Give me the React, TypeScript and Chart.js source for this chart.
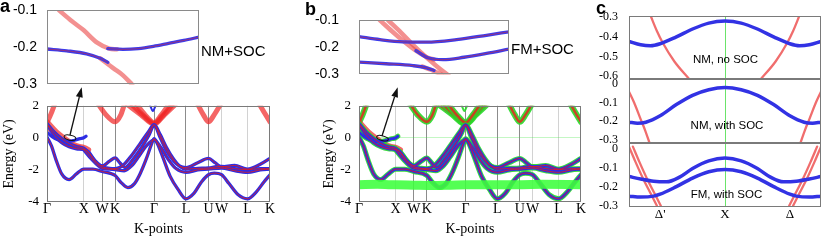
import React, { useEffect, useRef } from 'react';
import { Chart, registerables } from 'chart.js';

Chart.register(...registerables);

type Pt = [number, number];

// ---------------- data ----------------
// k-path positions (cumulative, fcc path)
const K_POS = [0, 1, 1.5, 1.854, 2.914, 3.78, 4.392, 4.746, 5.453, 6.065];
const K_LABELS = ['Γ', 'X', 'W', 'K', 'Γ', 'L', 'U', 'W', 'L', 'K'];
const E_TICKS = [2, 0, -2, -4];

// valence bands (k, E in eV)
const BAND_P: Pt[] = [[0, 0.05], [0.12, -0.5], [0.25, -1.4], [0.4, -2.25], [0.6, -2.6], [0.8, -2.25], [1.0, -1.95], [1.25, -1.95], [1.5, -2.1], [1.854, -2.35], [2.0, -2.75], [2.2, -3.1], [2.38, -2.85], [2.53, -2.25], [2.71, -1.25], [2.84, -0.4], [2.914, -0.05], [3.0, -0.35], [3.15, -1.2], [3.35, -2.4], [3.56, -3.2], [3.78, -3.8], [4.0, -3.45], [4.2, -2.75], [4.392, -2.3], [4.55, -2.2], [4.746, -2.3], [4.95, -2.85], [5.2, -3.55], [5.453, -3.8], [5.7, -3.35], [5.9, -2.75], [6.065, -2.3]];
const BAND_Q: Pt[] = [[0, 0.9], [0.2, 0.35], [0.4, -0.05], [0.6, -0.35], [0.8, -0.55], [1.0, -0.65], [1.15, -1.0], [1.35, -1.55], [1.5, -1.8], [1.7, -1.9], [1.854, -1.92], [2.05, -1.75], [2.3, -1.1], [2.55, -0.3], [2.75, 0.35], [2.914, 0.82], [3.08, 0.2], [3.25, -0.6], [3.45, -1.35], [3.6, -1.75], [3.78, -1.95], [4.1, -1.9], [4.392, -1.88], [4.6, -1.8], [4.746, -1.78], [5.1, -1.92], [5.453, -1.98], [5.8, -1.92], [6.065, -1.92]];
const BAND_R: Pt[] = [[0, 0.85], [0.2, 0.15], [0.4, -0.3], [0.6, -0.55], [0.8, -0.68], [1.0, -0.72], [1.12, -0.85], [1.3, -1.4], [1.5, -1.75], [1.7, -1.45], [1.854, -1.25], [1.98, -1.55], [2.12, -1.85], [2.35, -1.3], [2.6, -0.5], [2.78, 0.2], [2.914, 0.78], [3.08, 0.0], [3.25, -0.8], [3.45, -1.45], [3.6, -1.75], [3.78, -1.85], [4.1, -1.55], [4.392, -1.28], [4.57, -1.55], [4.746, -1.82], [5.1, -1.72], [5.453, -1.95], [5.8, -1.65], [6.065, -1.28]];
const BAND_S: Pt[] = [[0, 0.35], [0.14, 0.08], [0.28, -0.1], [0.46, -0.22], [0.6, -0.22], [0.75, -0.15], [0.9, -0.05], [1.0, 0.0], [1.06, 0.1]];
const BAND_T: Pt[] = [[1.0, -0.75], [1.2, -1.3], [1.5, -1.9], [1.7, -1.95], [1.854, -1.98], [2.1, -2.05], [2.3, -1.75], [2.5, -1.15], [2.7, -0.5], [2.914, -0.12], [3.1, -0.6], [3.3, -1.35], [3.5, -1.9], [3.78, -2.15], [4.1, -2.0], [4.392, -1.95], [4.746, -1.88], [5.1, -2.05], [5.453, -2.15], [5.8, -2.0], [6.065, -1.95]];
const RED_GX1: Pt[] = [[0, 0.98], [0.15, 0.6], [0.3, 0.25], [0.5, -0.1], [0.7, -0.4], [0.85, -0.55], [1.0, -0.62], [1.12, -0.75]];
const RED_GX2: Pt[] = [[0, 0.8], [0.15, 0.35], [0.3, 0.0], [0.5, -0.3], [0.7, -0.5], [0.9, -0.62]];

// conduction bands
const C_G1: Pt[] = [[0, 0.95], [0.1, 1.45], [0.2, 2.05]];
const C_K: Pt[] = [[1.41, 2.05], [1.6, 1.45], [1.854, 1.0], [2.0, 1.4], [2.1, 2.05]];
const FAN_1: Pt[] = [[2.2, 2.05], [2.55, 1.45], [2.914, 0.85], [3.2, 1.45], [3.48, 2.05]];
const FAN_2: Pt[] = [[2.32, 2.05], [2.62, 1.4], [2.914, 0.9], [3.15, 1.4], [3.4, 2.05]];
const FAN_3: Pt[] = [[2.45, 2.05], [2.7, 1.35], [2.914, 0.95], [3.1, 1.4], [3.3, 2.05]];
const BLUE_V: Pt[] = [[2.8, 2.05], [2.88, 1.68], [2.96, 2.05]];
const C_U: Pt[] = [[4.11, 2.05], [4.25, 1.45], [4.392, 1.0], [4.55, 1.45], [4.71, 2.05]];
const C_K2: Pt[] = [[5.79, 2.05], [5.93, 1.5], [6.065, 1.0]];
const GREEN_FLAT: Pt[] = [[0, -2.92], [0.5, -2.9], [1, -2.93], [1.5, -2.95], [2, -2.97], [2.5, -2.95], [2.914, -2.93], [3.5, -2.92], [4.392, -2.92], [5, -2.9], [6.065, -2.92]];

// insets (relative k, E)
const INSET_TICKS = [-0.1, -0.2, -0.3];
const IA_RED1: Pt[] = [[0.08, -0.1], [0.16, -0.128], [0.24, -0.153], [0.33, -0.187], [0.41, -0.203], [0.46, -0.205]];
const IA_BLUE1: Pt[] = [[0.4, -0.203], [0.5, -0.205], [0.6, -0.203], [0.7, -0.197], [0.8, -0.189], [0.9, -0.181], [1.0, -0.172]];
const IA_BLUE2: Pt[] = [[0, -0.204], [0.13, -0.209], [0.26, -0.217], [0.35, -0.229], [0.4, -0.24]];
const IA_RED2: Pt[] = [[0.35, -0.229], [0.44, -0.257], [0.5, -0.275], [0.56, -0.3]];

const IB_BLUE_U: Pt[] = [[0, -0.16], [0.14, -0.171], [0.29, -0.179], [0.45, -0.18], [0.65, -0.171], [0.85, -0.155], [1, -0.142]];
const IB_RED_1: Pt[] = [[0.14, -0.1], [0.22, -0.14], [0.3, -0.178], [0.38, -0.212], [0.46, -0.238], [0.5, -0.244]];
const IB_BLUE_M: Pt[] = [[0.38, -0.212], [0.46, -0.238], [0.56, -0.245], [0.7, -0.236], [0.85, -0.222], [1, -0.206]];
const IB_RED_2: Pt[] = [[0.195, -0.1], [0.28, -0.145], [0.36, -0.19], [0.44, -0.232], [0.52, -0.27], [0.6, -0.305]];
const IB_BLUE_L: Pt[] = [[0, -0.254], [0.18, -0.26], [0.36, -0.267], [0.45, -0.275], [0.5, -0.285]];
const IB_RED_3: Pt[] = [[0.42, -0.27], [0.48, -0.282], [0.55, -0.3]];

// panel c
const C_X_POS = [-1, 0, 1];
const C_X_LABELS = ["Δ'", 'X', 'Δ'];
const C1_TICKS = [-0.3, -0.4, -0.5, -0.6];
const C23_TICKS = [0, -0.1, -0.2, -0.3];
const C1_BLUE: Pt[] = [[-1.48, -0.423], [-1.3, -0.44], [-1.15, -0.445], [-1.0, -0.435], [-0.75, -0.4], [-0.5, -0.36], [-0.25, -0.33], [0, -0.32], [0.25, -0.33], [0.5, -0.36], [0.75, -0.4], [1.0, -0.435], [1.15, -0.445], [1.3, -0.44], [1.48, -0.423]];
const C1_RED_L: Pt[] = [[-1.15, -0.29], [-1.05, -0.37], [-0.96, -0.43], [-0.78, -0.525], [-0.55, -0.615]];
const C1_RED_R: Pt[] = [[0.55, -0.615], [0.78, -0.525], [0.96, -0.43], [1.05, -0.37], [1.15, -0.29]];
const C2_BLUE: Pt[] = [[-1.48, -0.205], [-1.35, -0.21], [-1.22, -0.205], [-1.0, -0.17], [-0.75, -0.11], [-0.5, -0.06], [-0.25, -0.03], [0, -0.018], [0.25, -0.03], [0.5, -0.06], [0.75, -0.11], [1.0, -0.17], [1.22, -0.205], [1.35, -0.21], [1.48, -0.205]];
const C2_RED_L: Pt[] = [[-1.48, -0.04], [-1.4, -0.1], [-1.31, -0.18], [-1.23, -0.25], [-1.16, -0.32]];
const C2_RED_R: Pt[] = [[1.16, -0.32], [1.23, -0.25], [1.31, -0.18], [1.4, -0.1], [1.48, -0.04]];
const C3_BLUE_U: Pt[] = [[-1.48, -0.147], [-1.3, -0.16], [-1.1, -0.172], [-0.9, -0.175], [-0.7, -0.15], [-0.5, -0.105], [-0.25, -0.065], [0, -0.05], [0.25, -0.065], [0.5, -0.105], [0.7, -0.15], [0.9, -0.175], [1.1, -0.172], [1.3, -0.16], [1.48, -0.147]];
const C3_BLUE_L: Pt[] = [[-1.48, -0.25], [-1.3, -0.255], [-1.1, -0.25], [-1.0, -0.24], [-0.75, -0.2], [-0.5, -0.155], [-0.25, -0.122], [0, -0.11], [0.25, -0.122], [0.5, -0.155], [0.75, -0.2], [1.0, -0.24], [1.1, -0.25], [1.3, -0.255], [1.48, -0.25]];
const C3_RED_L1: Pt[] = [[-1.48, 0.01], [-1.38, -0.07], [-1.26, -0.16], [-1.14, -0.24], [-1.05, -0.3]];
const C3_RED_L2: Pt[] = [[-1.42, 0.01], [-1.32, -0.07], [-1.2, -0.16], [-1.08, -0.24], [-0.99, -0.3]];
const C3_RED_R1: Pt[] = [[1.05, -0.3], [1.14, -0.24], [1.26, -0.16], [1.38, -0.07], [1.48, 0.01]];
const C3_RED_R2: Pt[] = [[0.99, -0.3], [1.08, -0.24], [1.2, -0.16], [1.32, -0.07], [1.42, 0.01]];

// ---------------- styling helpers ----------------
const SERIF = "'Liberation Serif','Times New Roman',serif";
const SANS = "'Liberation Sans',Arial,Helvetica,sans-serif";
const BLUE = 'rgb(45,45,228)';
const RED_CORE = 'rgba(225,30,30,0.85)';
const RED_FAT = 'rgba(240,35,35,0.7)';
const GREEN_EDGE = 'rgba(40,215,40,0.9)';

const framePlugin = {
  id: 'frame',
  afterDatasetsDraw(chart: any, _args: any, opts: any) {
    const { ctx, chartArea } = chart;
    const { left, top, right, bottom } = chartArea;
    ctx.save();
    ctx.strokeStyle = opts.color || '#777';
    ctx.lineWidth = 1;
    ctx.strokeRect(Math.round(left) + 0.5, Math.round(top) + 0.5, Math.round(right - left) - 1, Math.round(bottom - top) - 1);
    ctx.restore();
  },
};

function line(data: Pt[], color: string, width: number) {
  return {
    data: data.map(([x, y]) => ({ x, y })),
    borderColor: color,
    backgroundColor: color,
    borderWidth: width,
    pointRadius: 0,
    pointHoverRadius: 0,
    showLine: true,
    fill: false,
    cubicInterpolationMode: 'monotone',
    clip: 0,
    borderCapStyle: 'round',
    borderJoinStyle: 'round',
  };
}

function makeConfig(layers: any[], padding: any, scales: any, frameColor: string) {
  return {
    type: 'scatter',
    data: { datasets: layers.slice().reverse() },
    options: {
      responsive: false,
      animation: false,
      events: [],
      layout: { padding },
      plugins: { legend: { display: false }, tooltip: { enabled: false }, frame: { color: frameColor } },
      scales,
    },
    plugins: [framePlugin],
  };
}

function bandConfig(fm: boolean) {
  const layers: any[] = [];
  const cond = [C_G1, C_K, FAN_1, FAN_2, FAN_3, C_U, C_K2];
  const val = [BAND_P, BAND_Q, BAND_R, BAND_T];
  cond.forEach((b) => {
    if (fm) {
      layers.push(line(b, GREEN_EDGE, 6));
      layers.push(line(b, 'rgba(235,30,30,0.8)', 2.5));
    } else {
      layers.push(line(b, RED_FAT, 5));
    }
  });
  layers.push(line(BLUE_V, fm ? GREEN_EDGE : BLUE, 2));
  layers.push(line(RED_GX2, RED_FAT, 5));
  layers.push(line(RED_GX1, RED_FAT, 6));
  if (fm) {
    [...val, BAND_S].forEach((b) => layers.push(line(b, GREEN_EDGE, 5)));
  }
  [...val, BAND_S].forEach((b) => layers.push(line(b, BLUE, fm ? 3 : 3.3)));
  val.forEach((b) => layers.push(line(b, RED_CORE, 1)));
  if (fm) layers.push(line(GREEN_FLAT, 'rgba(60,255,60,0.88)', 9));

  const darkIdx = [2, 3, 4, 5, 6];
  const scales = {
    x: {
      type: 'linear',
      min: K_POS[0],
      max: K_POS[K_POS.length - 1],
      afterBuildTicks: (s: any) => { s.ticks = K_POS.map((v) => ({ value: v })); },
      afterFit: (s: any) => { s.height = 43; },
      grid: {
        drawTicks: false,
        lineWidth: 1,
        color: (c: any) => (c.index === 0 || c.index === K_POS.length - 1 ? 'rgba(0,0,0,0)' : darkIdx.includes(c.index) ? '#8c8c8c' : '#d2d2d2'),
      },
      border: { display: false },
      ticks: {
        autoSkip: false,
        maxRotation: 0,
        padding: 0,
        color: '#000',
        font: { family: SERIF, size: 14, lineHeight: 1 },
        callback: (_v: any, i: number) => K_LABELS[i],
      },
      title: { display: true, text: 'K-points', color: '#000', font: { family: SERIF, size: 14 }, padding: { top: 0, bottom: 7.6 } },
    },
    y: {
      min: -4,
      max: 2,
      afterBuildTicks: (s: any) => { s.ticks = E_TICKS.map((v) => ({ value: v })); },
      afterFit: (s: any) => { s.width = fm ? 39 : 47; },
      grid: {
        display: fm,
        drawTicks: false,
        color: (c: any) => (c.tick && c.tick.value === 0 ? 'rgba(60,230,60,0.3)' : 'rgba(0,0,0,0)'),
      },
      border: { display: false },
      ticks: { padding: 8, color: '#000', font: { family: SERIF, size: 13 }, callback: (v: any) => String(v) },
      title: { display: true, text: 'Energy (eV)', color: '#000', font: { family: SERIF, size: 14 }, padding: { top: 0.6, bottom: 0 } },
    },
  };
  return makeConfig(layers, { top: 9, right: 7, left: 0, bottom: 0 }, scales, '#7a7a7a');
}

const I_BLUE = 'rgb(60,60,235)';
const I_RED = 'rgba(235,70,70,0.6)';
const I_CORE = 'rgba(220,40,40,0.55)';

function insetConfig(reds: Pt[][], blues: Pt[][], yWidth: number, tickPad: number) {
  const layers: any[] = [];
  reds.forEach((b) => layers.push(line(b, I_RED, 4.5)));
  blues.forEach((b) => layers.push(line(b, I_BLUE, 3.3)));
  blues.forEach((b) => layers.push(line(b, I_CORE, 1)));
  const scales = {
    x: { type: 'linear', min: 0, max: 1, display: false },
    y: {
      min: -0.3,
      max: -0.1,
      afterBuildTicks: (s: any) => { s.ticks = INSET_TICKS.map((v) => ({ value: v })); },
      afterFit: (s: any) => { s.width = yWidth; },
      grid: { display: false },
      border: { display: false },
      ticks: { padding: tickPad, color: '#000', font: { family: SANS, size: 14 }, callback: (v: any) => Number(v).toFixed(1) },
    },
  };
  return makeConfig(layers, { top: 10, right: 7, left: 0, bottom: 9 }, scales, '#8a8a8a');
}

const C_BLUE = 'rgb(50,50,228)';
const C_RED = 'rgba(235,60,60,0.75)';

function cConfig(reds: Pt[][], blues: Pt[][], min: number, max: number, ticks: number[], showX: boolean) {
  const layers: any[] = [];
  reds.forEach((b) => layers.push(line(b, C_RED, 2.3)));
  blues.forEach((b) => layers.push(line(b, C_BLUE, 3.5)));
  const scales = {
    x: {
      type: 'linear',
      min: -1.48,
      max: 1.48,
      afterBuildTicks: (s: any) => { s.ticks = C_X_POS.map((v) => ({ value: v })); },
      afterFit: (s: any) => { s.height = showX ? 38 : 0; },
      grid: { drawTicks: false, color: (c: any) => (c.tick && c.tick.value === 0 ? 'rgba(90,225,90,0.9)' : 'rgba(0,0,0,0)') },
      border: { display: false },
      ticks: {
        display: showX,
        autoSkip: false,
        maxRotation: 0,
        padding: 1,
        color: '#000',
        font: { family: SERIF, size: 13, lineHeight: 1 },
        callback: (_v: any, i: number) => C_X_LABELS[i],
      },
    },
    y: {
      min,
      max,
      afterBuildTicks: (s: any) => { s.ticks = ticks.map((v) => ({ value: v })); },
      afterFit: (s: any) => { s.width = 39; },
      grid: { display: false },
      border: { display: false },
      ticks: { padding: 3, color: '#000', font: { family: SERIF, size: 12 }, callback: (v: any) => (Number(v) === 0 ? '0' : Number(v).toFixed(1)) },
    },
  };
  return makeConfig(layers, { top: 10, right: 1, left: 0, bottom: showX ? 0 : 10 }, scales, '#7a7a7a');
}

// ---------------- components ----------------
function ChartBox(props: { left: number; top: number; width: number; height: number; make: () => any }) {
  const ref = useRef<HTMLCanvasElement>(null);
  useEffect(() => {
    const chart = new Chart(ref.current as HTMLCanvasElement, props.make());
    return () => chart.destroy();
  }, []);
  const { left, top, width, height } = props;
  return <canvas ref={ref} width={width} height={height} style={{ position: 'absolute', left, top, width, height }} />;
}

function T(props: { x: number; y: number; size: number; family: string; bold?: boolean; align?: 'left' | 'center'; children: any }) {
  const tx = props.align === 'center' ? '-50%' : '0';
  return (
    <div
      style={{
        position: 'absolute',
        left: props.x,
        top: props.y,
        transform: `translate(${tx}, -50%)`,
        fontFamily: props.family,
        fontSize: props.size,
        fontWeight: props.bold ? 'bold' : 'normal',
        lineHeight: 1,
        whiteSpace: 'nowrap',
        color: '#000',
      }}
    >
      {props.children}
    </div>
  );
}

export default function App() {
  return (
    <div style={{ position: 'absolute', left: 0, top: 0, width: 822, height: 245, background: '#fff', overflow: 'hidden' }}>
      <ChartBox left={0} top={90} width={277} height={155} make={() => bandConfig(false)} />
      <ChartBox left={320} top={90} width={268} height={155} make={() => bandConfig(true)} />
      <ChartBox left={0} top={0} width={206} height={95} make={() => insetConfig([IA_RED1, IA_RED2], [IA_BLUE1, IA_BLUE2], 47, 2)} />
      <ChartBox left={300} top={0} width={216} height={95} make={() => insetConfig([IB_RED_1, IB_RED_2, IB_RED_3], [IB_BLUE_U, IB_BLUE_M, IB_BLUE_L], 59, 12)} />
      <ChartBox left={590} top={6} width={232} height={83} make={() => cConfig([C1_RED_L, C1_RED_R], [C1_BLUE], -0.613, -0.295, C1_TICKS, false)} />
      <ChartBox left={590} top={69} width={232} height={84} make={() => cConfig([C2_RED_L, C2_RED_R], [C2_BLUE], -0.316, 0.027, C23_TICKS, false)} />
      <ChartBox left={590} top={133} width={232} height={112} make={() => cConfig([C3_RED_L1, C3_RED_L2, C3_RED_R1, C3_RED_R2], [C3_BLUE_U, C3_BLUE_L], -0.307, 0.028, C23_TICKS, true)} />

      <svg width={822} height={245} style={{ position: 'absolute', left: 0, top: 0, pointerEvents: 'none' }}>
        <ellipse cx={70} cy={137.7} rx={6} ry={2.5} fill="none" stroke="#111" strokeWidth={1} transform="rotate(12 70 137.7)" />
        <line x1={70} y1={135} x2={79.3} y2={97} stroke="#111" strokeWidth={1.3} />
        <polygon points="81.7,87.3 82.7,97.8 75.9,96.2" fill="#111" />
        <ellipse cx={382.5} cy={138.2} rx={6} ry={2.3} fill="none" stroke="#111" strokeWidth={1} transform="rotate(15 382.5 138.2)" />
        <line x1={382} y1={136} x2={394.6} y2={96.8} stroke="#111" strokeWidth={1.3} />
        <polygon points="397.7,87.3 397.9,97.8 391.4,95.8" fill="#111" />
      </svg>

      <T x={0} y={5.6} size={18} family={SANS} bold>a</T>
      <T x={305} y={8.8} size={18} family={SANS} bold>b</T>
      <T x={596} y={7.9} size={18} family={SANS} bold>c</T>
      <T x={201} y={50} size={15} family={SANS}>NM+SOC</T>
      <T x={511} y={47.5} size={15} family={SANS}>FM+SOC</T>
      <T x={725.5} y={59.5} size={11.5} family={SANS} align="center">NM, no SOC</T>
      <T x={727} y={126} size={11.5} family={SANS} align="center">NM, with SOC</T>
      <T x={726.5} y={195.3} size={11.5} family={SANS} align="center">FM, with SOC</T>
    </div>
  );
}
